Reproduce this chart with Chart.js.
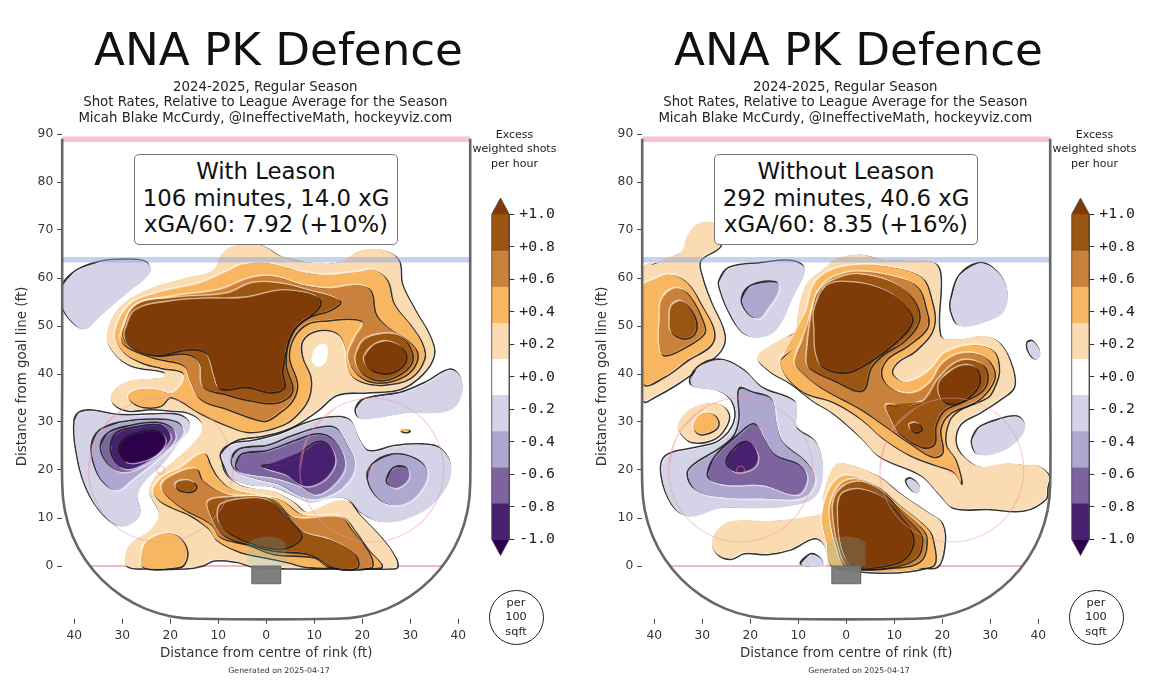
<!DOCTYPE html>
<html><head><meta charset="utf-8">
<script src="https://cdn.jsdelivr.net/npm/chart.js@4/dist/chart.umd.js"></script>
<style>
html,body{margin:0;padding:0;background:#fff;width:1162px;height:700px;overflow:hidden}
#root{position:relative;width:1162px;height:700px;font-family:"DejaVu Sans",sans-serif;color:#222;filter:blur(0.45px)}
canvas{position:absolute;top:0}
.t{position:absolute;text-align:center;white-space:nowrap;transform:translate(-50%,-50%)}
.box{position:absolute;top:154px;width:262px;height:89px;border:1px solid #777;border-radius:5px;background:#fff;font-size:22.8px;line-height:26.6px;text-align:center;box-sizing:content-box;padding-top:0;color:#111;white-space:nowrap}
.sq{position:absolute;top:590px;width:53px;height:53px;border:1.4px solid #222;border-radius:50%;font-size:11.3px;line-height:14.5px;text-align:center;display:flex;align-items:center;justify-content:center}
</style></head><body><div id="root"></div>
<script>
// ---------- text ----------
const titleText = 'ANA PK Defence';
const subtitleLines = ['2024-2025, Regular Season','Shot Rates, Relative to League Average for the Season','Micah Blake McCurdy, @IneffectiveMath, hockeyviz.com'];
const leftBoxLines = ['With Leason','106 minutes, 14.0 xG','xGA/60: 7.92 (+10%)'];
const rightBoxLines = ['Without Leason','292 minutes, 40.6 xG','xGA/60: 8.35 (+16%)'];
const legendTitle = ['Excess','weighted shots','per hour'];
const unitLines = ['per','100','sqft'];
const xTitle = 'Distance from centre of rink (ft)';
const yTitle = 'Distance from goal line (ft)';
const footer = 'Generated on 2025-04-17';
// ---------- axes ----------
const xTicks = [-40,-30,-20,-10,0,10,20,30,40];
const yTicks = [0,10,20,30,40,50,60,70,80,90];
const colorTicks = [1,0.8,0.6,0.4,0.2,0,-0.2,-0.4,-0.6,-0.8,-1];
const colorTickLabels = ['+1.0','+0.8','+0.6','+0.4','+0.2','+0.0','-0.2','-0.4','-0.6','-0.8','-1.0'];
// ---------- colour bar ----------
const bandLow  = [0.778,0.556,0.333,0.111,-0.111,-0.333,-0.556,-0.778,-1];
const bandHigh = [1,0.778,0.556,0.333,0.111,-0.111,-0.333,-0.556,-0.778];
const bandColor= ['#9a5512','#c9813b','#f9b661','#fbdcb2','#ffffff','#d5d3e8','#aea7d0','#7e649f','#482070'];
const capTop = [[0,1],[0.5,1.1],[1,1]];
const capBottom = [[0,-1],[0.5,-1.1],[1,-1]];
const capOutline = [[0,-1],[0,1],[0.5,1.1],[1,1],[1,-1],[0.5,-1.1],[0,-1]];
// ---------- rink (feet) ----------
const rinkOutline = [[-42.5,89],[-42.5,40],[-42.5,17],[-41.95,11.54],[-40.37,6.28],[-37.78,1.44],[-34.3,-2.8],[-30.05,-6.28],[-25.22,-8.87],[-20,-10.45],[-14.5,-11],[14.5,-11],[20,-10.45],[25.22,-8.87],[30.05,-6.28],[34.3,-2.8],[37.78,1.44],[40.37,6.28],[41.95,11.54],[42.5,17],[42.5,40],[42.5,89]];
const blueLine = [[-42.5,63.8],[42.5,63.8]];
const redLine = [[-42.5,88.9],[42.5,88.9]];
const goalLine = [[-36.7,0],[36.7,0]];
const net = [[-3,0],[3,0],[3,-3.7],[-3,-3.7],[-3,0]];
const crease = [[-4,0],[-4,4.6],[-2.6,5.7],[0,6.2],[2.6,5.8],[4,4.9],[4,0],[-4,0]];
const faceoffSpots = [[-22,20],[22,20]];
const faceoffWest = [[-37,20],[-34.99,27.5],[-29.5,32.99],[-22,35],[-14.5,32.99],[-9.01,27.5],[-7,20],[-9.01,12.5],[-14.5,7.01],[-22,5],[-29.5,7.01],[-34.99,12.5]];
const faceoffEast = [[7,20],[9.01,27.5],[14.5,32.99],[22,35],[29.5,32.99],[34.99,27.5],[37,20],[34.99,12.5],[29.5,7.01],[22,5],[14.5,7.01],[9.01,12.5]];
// ---------- left panel contours (feet) ----------
const L_pale = [[-33.2,48.5],[-30.5,54],[-24.2,57.8],[-17.3,59.9],[-11,61.7],[-9.3,65.1],[-6.2,66.9],[-1.3,66.9],[3.5,64.4],[10.5,63.1],[15.4,63.4],[19.5,65.7],[24.4,65.8],[27.5,63.8],[28.2,58.9],[31,53.3],[34.1,47.8],[34.8,44],[32.4,40.1],[27.8,37],[20.9,36.3],[14.7,35.8],[10.5,32.5],[5,29],[-0.6,27.3],[-6.8,26.2],[-9.3,23.5],[-8.6,19.3],[-5.5,16.9],[-2.7,16.2],[1.5,15.5],[5.6,13.4],[8.4,11.3],[14,13.4],[17.1,13.4],[19.5,10.6],[24.4,5.4],[26.8,1.9],[27.2,0],[26,-0.4],[15,-0.4],[5,-0.4],[0,-0.2],[-3,0],[-6.5,1],[-11,1.3],[-13.5,0.2],[-17,-0.4],[-25,-0.4],[-29,0],[-29.4,2],[-28.3,4.7],[-24.1,7.6],[-22.4,10.9],[-24,14.4],[-24.4,15.8],[-23.2,18.6],[-20.7,20.7],[-15.9,24.9],[-13.5,28],[-13.8,30.4],[-16.6,32.1],[-20,32.5],[-24.2,32.8],[-29,32.5],[-31.9,33.9],[-32.2,36],[-29.1,38.4],[-21.4,39.4],[-21.4,40.5],[-28.4,41.9],[-32.2,45]];
const L_orange = [[-31.5,48.5],[-28.4,54.4],[-22.8,56.8],[-13.8,58.9],[-8.2,61.3],[-4.8,62.8],[0.1,63.1],[7.1,61.3],[12.6,60.6],[19.5,61.3],[22.3,61.7],[25.1,59.6],[26.5,54.7],[30,50.2],[32.4,46.4],[32.8,43.3],[30,39.4],[24.4,37.9],[19.5,38.6],[17.1,40.8],[16.4,45.7],[14.7,48.6],[10.5,49.2],[7.4,47.1],[7.4,43.6],[9.1,39.4],[8.8,35.5],[7,32.5],[3.6,29.7],[-3.4,28],[-8.3,29.4],[-14,32],[-20,35.3],[-22.1,33.5],[-25.6,33.2],[-28,34.2],[-28.7,35.6],[-26.3,36.8],[-22.8,36.7],[-19.7,36],[-17.3,38.4],[-17.6,40.5],[-22.1,41.4],[-26.3,42.6],[-29.8,44.7]];
const L_orangeLow = [[-23.5,15.8],[-21.8,18.3],[-18,20.3],[-13.1,23.5],[-11.7,21],[-10.3,18.6],[-7.5,16.2],[-2,14.8],[2.9,13.8],[7.7,10.6],[15.7,10.3],[18.5,7.2],[21.3,3.3],[23.8,0.6],[23.8,-0.2],[15,-0.2],[8.4,-0.1],[4.3,0.9],[0.1,1.8],[-5.5,3],[-10.3,5.4],[-12,7.8],[-15.9,10.6],[-20,12.4],[-22.4,13.8]];
const L_orangeSpot = [[-25.9,2.6],[-24.8,5.1],[-21,6.8],[-18.3,6.1],[-16.6,3.3],[-17.2,0.6],[-18.7,-0.2],[-25.6,-0.2]];
const L_tan = [[-30.1,48.5],[-27.3,54],[-19.3,56.1],[-9.6,57.5],[-3.4,59.9],[1.5,60.3],[7.7,58.5],[13.3,57.8],[18.8,58.5],[21.6,57.5],[22.7,52.6],[25.1,49.9],[29.3,47.1],[31.4,44.3],[30,40.8],[26.5,38.8],[22.3,38.4],[18.9,40.1],[17.1,43.6],[18.5,47.4],[20.2,50.6],[18.1,51.6],[12.6,51.3],[8.4,50.6],[5.6,47.8],[4.6,43.6],[6.3,38.1],[5.3,34.6],[2.2,31.8],[-0.3,30.4],[-2.7,30.8],[-8.2,32.8],[-13.8,34.9],[-15.9,38.8],[-17.3,41.9],[-22.8,43.3],[-27.7,45],[-30.1,46.7]];
const L_tanLow = [[-21.8,16.5],[-20.4,18.3],[-14.8,20.3],[-13.4,17.9],[-8.2,14.9],[-2,14.4],[1.5,13.8],[5.6,10.1],[15.4,10.1],[17.5,7.8],[21.6,2.3],[21.6,-0.2],[13.3,-0.2],[9.8,1.9],[1.5,2.6],[-4.1,4.6],[-9.6,6.1],[-11.7,8.9],[-17.3,12],[-20.4,14.4]];
const L_brown = [[-29.8,49.2],[-27,54.4],[-19.3,55.8],[-8.2,56.7],[-2.7,58.9],[2.9,58.8],[8.4,57.5],[15.2,55.3],[13.3,53.5],[8.4,51.8],[5,48.5],[3.9,42.2],[5.3,36.7],[2.2,34.2],[-3.4,34.6],[-8.9,36],[-13.1,37.4],[-13.8,42.2],[-16.6,44.3],[-22.8,44],[-27.7,45.7],[-29.8,47.4]];
const L_brownLobe = [[18.9,44.3],[20.6,47.1],[24.4,48.3],[27.9,47.8],[30.1,45],[30,42.2],[27.2,39.8],[23.7,38.8],[20.6,39.8],[18.9,41.9]];
const L_brownSpot = [[-18.9,16.7],[-18,17.6],[-15.9,17.7],[-14.7,16.7],[-15.5,15.7],[-17.6,15.7]];
const L_brownLow = [[-12,13.4],[-8.2,14.2],[0.1,14.2],[2.9,12],[7.4,7.2],[13.3,5.4],[18.5,2.3],[18.7,-0.2],[14,-0.2],[9.1,2.5],[1.5,3.3],[-4.1,4.7],[-8.9,6.5],[-11.4,10.3]];
const L_dark = [[-29.2,49.2],[-27,53.3],[-19.3,55.1],[-12.4,55.6],[-4.1,55.8],[2.9,57.3],[8.4,56.8],[11.1,55.4],[10.2,53.3],[6.3,50.2],[4.6,47.1],[3.2,40.8],[3.6,37.4],[0.8,36.3],[-4.1,37.4],[-9.6,37],[-10.7,39.4],[-12.4,44.3],[-15.9,45.3],[-22.8,44],[-27,45],[-29.2,47.1]];
const L_darkLobe = [[20.6,43.6],[22.7,46],[25.5,46.7],[28.6,45],[28.8,42.6],[26.2,40.5],[23,40.5],[20.9,41.9]];
const L_darkLow = [[-10,11],[-9.3,12.7],[-5.5,13.8],[0.1,13.7],[2.9,11.3],[7.1,6.8],[6.4,5.1],[2.9,3.7],[-2.7,4.7],[-7.5,6.8],[-9.6,8.9]];
const L_hole = [[9.5,43.6],[10.5,45.7],[12.5,46.1],[12.6,43],[11.2,41.5],[9.8,42.2]];
const L_fleck = [[27.9,28.3],[28.9,28.6],[29.8,28.3],[28.9,28]];
const L_lilacCorner = [[-42.4,58.1],[-39.5,61.3],[-34.6,63.2],[-29,63.7],[-24.9,63.2],[-24.2,61.1],[-29,56.8],[-34.6,52],[-37.7,49.3],[-40.2,50.6],[-42.4,54]];
const L_lilacWest = [[-39.8,30.1],[-38.8,31.8],[-36.7,32.3],[-29.8,31.3],[-19.3,31.5],[-16.6,30.6],[-15.9,28.7],[-18,25.9],[-21.4,21.4],[-25.6,17.2],[-26.8,14.4],[-26.2,10.6],[-29.8,8.2],[-33.6,10.3],[-37.4,16.2],[-39.5,24.2]];
const L_lilacEast = [[-9.3,23.1],[-7.2,25.2],[-2.7,25.9],[2.9,27.3],[8.4,29.6],[13.3,30.8],[17.5,30.3],[19.5,26.3],[21.6,23.8],[27.2,24.9],[32.7,25.2],[36.6,24.2],[38.6,20],[36.2,14.4],[30.6,10.3],[24.4,9.1],[19.9,11],[17.1,13.8],[13.3,14.1],[9.5,13.2],[6.3,14.4],[1.5,16.4],[-2.7,16.7],[-7.2,18.3],[-8.6,20.7]];
const L_lilacNorth = [[18.8,32.5],[20.6,34.6],[28,35.9],[33.4,38.1],[38.6,40.8],[40.7,38.8],[40.4,34.6],[37.6,32.2],[29.2,31.8],[22.9,30.8],[19.5,30.8]];
const L_lavWest = [[-36.2,24.9],[-34.7,27.9],[-30.5,29.7],[-22.8,30.4],[-18.3,29.7],[-17.3,27.7],[-20.1,24.5],[-24.2,21],[-27.7,18.3],[-31.2,15.8],[-34,17.6],[-35.7,21]];
const L_lavEast = [[-7,22.1],[-5.3,24.2],[0.1,24.8],[5.6,26.9],[11.1,28.6],[14.6,28.6],[16.7,25.5],[18.5,21],[16,16.5],[11.1,14.1],[7.6,14.4],[2.9,16.9],[-2.7,18.3],[-6.1,19.7]];
const L_lavRight = [[21.3,17.9],[22.3,21],[26.5,23.1],[31.4,22.1],[33.6,19.3],[31.4,14.8],[27.5,12.7],[23.7,13.8]];
const L_violetWest = [[-34.3,24.9],[-32.6,27.6],[-28.4,29],[-22.8,29.7],[-19.7,28.7],[-19,26.6],[-21.4,23.8],[-25.6,21],[-29.8,19.6],[-33,21.4]];
const L_violetEast = [[-6.1,21],[-4.8,23.1],[0.1,23.7],[6.3,25.9],[11.1,27.3],[14.3,25.9],[16.4,21.4],[14.6,17.6],[10.5,14.9],[7.4,16.6],[2.2,18.3],[-2.7,19],[-5.5,19.7]];
const L_violetRight = [[25.3,17.9],[26.8,20.3],[29.3,20.3],[29.6,18.3],[27.5,16.4],[25.8,16.7]];
const L_purpleWest = [[-32.2,24.9],[-30.9,27.6],[-27,28.7],[-22.5,29.2],[-20.4,28],[-20.1,26.3],[-22.5,23.5],[-26.3,21],[-29.4,20.3],[-31.5,22]];
const L_purpleEast = [[-0.6,20.7],[5,21.4],[8.4,24.2],[11.1,25.7],[13.3,24.8],[14.3,21.7],[12.6,18.6],[9.8,16.9],[7.4,16.9],[4.3,19],[1.2,20]];
const L_deepWest = [[-30.5,24.2],[-29.4,26.3],[-26.3,27.6],[-22.8,28],[-21.1,26.6],[-21.5,24.9],[-23.2,23.1],[-26.7,21.7],[-29.1,21.7],[-30.1,22.8]];
// ---------- right panel contours (feet) ----------
const R_paleWest = [[-42.4,62],[-38.1,63.6],[-34.3,65.5],[-33.2,68.6],[-30.8,71.4],[-27,71],[-26.3,66.9],[-30.5,63.8],[-30.1,60.3],[-28.4,55.4],[-25.5,48.5],[-26.3,45],[-30.5,41.5],[-35.3,38.1],[-40.2,35.3],[-42.4,34.6]];
const R_orangeWest = [[-42.4,58.2],[-40.2,59.6],[-36.7,60.7],[-33.2,59],[-30.1,54.1],[-27.7,49.2],[-28.4,46.1],[-33.2,43],[-38.1,39.5],[-42.4,38.2]];
const R_tanWest = [[-38.8,51.2],[-38.4,55.4],[-35.7,57.8],[-32.9,56.5],[-29.8,50.6],[-29.8,48.5],[-33.2,46],[-38.1,44],[-38.9,46.4]];
const R_brownWest = [[-36.7,51.2],[-36.3,54.1],[-34.3,55.1],[-32.2,53],[-31.3,50.2],[-32.2,48.1],[-34.3,47.6],[-36.4,48.8]];
const R_pale = [[-18.5,43.6],[-14.5,46.7],[-10.7,48.8],[-10,53.3],[-8.2,58.9],[-4.1,62.4],[-2,64.1],[2.9,64.9],[7.7,63.8],[17.8,63.4],[19.5,61],[19.5,48.1],[23,47.2],[28.6,47.9],[32,46.4],[34.5,41.5],[34.8,37.4],[32,34.9],[27.9,32.2],[23.7,29.7],[22.7,25.9],[24.4,22.8],[27.9,20.7],[33.4,21.4],[37.6,21],[39.7,21],[42.1,19],[41.8,16.5],[41.4,14.1],[36.9,11.7],[29.3,12],[22.3,12.2],[19.5,14.8],[15.4,19],[7,22.8],[2.9,26.9],[-2.7,31.8],[-7.2,34.6],[-11.7,38.1],[-16.2,40.8]];
const R_paleLow = [[-28,5.1],[-26.3,8.2],[-23.5,9.4],[-15.9,9.4],[-7.9,10.3],[-5.1,11.3],[-4.8,14.8],[-2.7,20.6],[-0.6,21.4],[6.3,18.9],[11.2,15.1],[16.8,11.3],[19.9,8.9],[20.3,4],[18.9,0],[15.7,-0.2],[2.9,-0.2],[-2.7,0],[-4.8,4.7],[-6.9,5.9],[-11.7,3.6],[-16.6,2.6],[-21.4,2.8],[-24.2,1.6],[-27,2.6]];
const R_paleSpot = [[-35,29.7],[-32.2,32.9],[-27,33.9],[-24.6,31.8],[-25.3,29],[-27.7,26.6],[-32.2,25.9],[-34.6,27.8]];
const R_orange = [[-13.8,42.6],[-10.3,46.4],[-8.2,53.3],[-6.5,58.9],[-2.7,61.7],[2.9,62.7],[8.4,62.4],[15.4,60.3],[17.5,56.1],[18.1,49.9],[14.3,45],[10.5,42.6],[9.5,40.1],[12.6,38.3],[17.5,40.8],[20.6,44.3],[26.5,46],[30.7,44.7],[31.7,40.8],[30.7,37.4],[29.3,35.3],[23.7,32.8],[21.3,30.4],[20.6,25.6],[22.7,22.1],[23.9,17.3],[22.3,19.7],[18.9,21],[13.3,23.1],[7.7,26.6],[2.9,30.8],[-2.7,34.2],[-9.6,36.7]];
const R_orangeLow = [[-5,9.6],[-4.1,14.4],[-2,17.9],[0.8,18.8],[6.3,16.6],[10.5,13.1],[15.7,8.9],[17.8,6.1],[17.5,0],[-2.7,0],[-4.1,5.4]];
const R_orangeSpot = [[-31.8,29.3],[-30.5,31.5],[-28.4,31.9],[-26.8,30.4],[-27.3,28.7],[-29.8,27.6],[-31.3,27.9]];
const R_tan = [[-10.7,42.6],[-8.2,49.2],[-6.9,53.7],[-4.8,58.5],[-1.3,60.6],[2.9,61.3],[9.8,60.3],[14.7,58.2],[16.4,54],[16.8,49.9],[12.6,46],[8.4,43.3],[7.2,39.8],[9.8,36.7],[14,36],[17.5,38.1],[20.2,42.2],[24.4,44.3],[28.6,43.6],[30.7,40.8],[30.3,38.1],[27.2,34.6],[21.3,31.8],[19.5,28.7],[19.9,23.8],[17.8,22.9],[13.3,25.6],[8.4,29],[2.9,32.8],[-5.5,37.4],[-9.6,40.8]];
const R_tanLow = [[-3.4,11],[-2.7,14.4],[-0.6,17.4],[2.9,17.9],[7.1,15.8],[10.5,12.4],[15.3,8.2],[16.6,6.1],[15.7,1.6],[11.9,0],[0.1,0],[-2,4]];
const R_brown = [[-8.2,42.9],[-6.9,53.7],[-5.5,57.5],[-1.3,60],[2.9,60.7],[9.8,58.9],[14,55.4],[15,51.2],[11.9,47],[7.7,44.3],[5,41.5],[3.2,36.7],[-2.7,38.8],[-7.5,41.2]];
const R_brownEast = [[8.4,33.5],[11.9,33.2],[16.1,34.2],[19.5,39.1],[23.7,42.6],[27.9,42.2],[29.3,39.8],[28.2,36.7],[23.7,34.2],[20.2,32.5],[18.5,29.4],[18.2,25.6],[15.7,24.9],[11.2,27.6],[9.5,30.4]];
const R_brownLow = [[-2.7,11.7],[-2,14.8],[0.1,16.9],[3.6,17.4],[7.7,15.1],[11.2,11.3],[14.6,7.8],[15.7,5.8],[14.6,2],[9.8,0],[0.8,0],[-1.3,3.3]];
const R_dark = [[-6.5,49.2],[-6.5,53.4],[-4.1,58.2],[1.5,59],[8.4,57.2],[12.6,53.7],[13.6,51],[10.5,47.1],[5,42.9],[0.1,40.5],[-4.8,41.5],[-6.2,44.3]];
const R_darkEast = [[20.2,39.1],[23.7,41.5],[26.5,41.5],[27.7,39.4],[26.8,36.7],[23.4,34.2],[20.6,34.2],[19.3,36.7]];
const R_darkSpot = [[13.3,29.4],[14.7,29.7],[15.6,28.7],[14.7,28],[13.6,28.3]];
const R_darkLow = [[-1.6,12.4],[-0.9,14.8],[1.2,15.8],[3.6,15.8],[7.7,14.1],[11.2,10.3],[13.6,6.8],[13.6,4],[11.5,1.3],[7,0],[1.5,0],[-0.9,4]];
const R_lilacNorth = [[-26.3,59.2],[-24.2,62],[-17.3,63],[-11,63.4],[-8.6,61.7],[-11,56.1],[-14.5,49.2],[-18,47.6],[-21.4,48.5],[-24.2,52.6],[-26,57]];
const R_lilacEast = [[22,55.4],[23.7,60.3],[27.5,62.9],[30.7,62],[33.4,58.2],[33,53.3],[29.2,50.9],[23.7,50],[22,52.8]];
const R_lilacPatch = [[26.4,26.3],[27.9,28.7],[32,30.4],[35.9,31],[37.3,29],[35.5,25.9],[31.4,23.5],[27.5,23.2],[26.5,24.6]];
const R_lilacFleck = [[37.9,46.4],[39,46.7],[40.5,44.3],[39.7,42.9],[38.2,44.3]];
const R_lilacCrease = [[-9.3,0.2],[-7.2,2.3],[-5.4,1.6],[-4.8,0.1]];
const R_lilacDot = [[12.6,17.6],[13.6,18.1],[15.4,16.4],[15,15.1],[13.6,15.8]];
const R_lilac = [[-32.2,37.7],[-30.8,41.2],[-26.3,42.9],[-21.4,40.8],[-17.3,37],[-10.7,34.2],[-10.3,31.1],[-10.3,28.7],[-6.2,25.6],[-4.8,19.7],[-6.5,14.4],[-12.4,12.4],[-19.3,12],[-26.3,12],[-32.5,10.3],[-36,12.4],[-38.4,19],[-37.4,22.8],[-31.2,24.5],[-26.3,25.9],[-23.2,29.7],[-23.5,33.9],[-26.3,36.3]];
const R_lavNorth = [[-21.6,55.4],[-19.7,58.2],[-14.5,59],[-14.2,57.2],[-16.6,53.4],[-18.3,51.6],[-20.4,52.6]];
const R_lav = [[-22.1,36.7],[-19.3,36],[-15.5,34.6],[-14.5,29.7],[-13.1,25.6],[-8.2,21.4],[-6.5,17.9],[-8.9,14.4],[-17.3,14.1],[-26.3,14.4],[-31.2,15.8],[-32.9,19],[-31.5,21],[-26.3,24.2],[-23.2,26.9],[-22.1,30.4]];
const R_violet = [[-28.7,19],[-27,22.8],[-22.1,27.3],[-19,29.4],[-16.9,26.2],[-14.5,22.8],[-9.6,20.8],[-8.2,18],[-10.3,14.9],[-17.3,16.9],[-24.2,16.9],[-27.7,17.6]];
const R_purple = [[-24.8,21.4],[-23.2,24.2],[-20.7,25.7],[-18.7,23.8],[-18.7,21.4],[-20.4,20],[-23.2,19.7]];

const C = {p2:'#fbdcb2',p4:'#f9b661',p6:'#c9813b',p8:'#9a5512',p10:'#7f3b08',n2:'#d5d3e8',n4:'#aea7d0',n6:'#7e649f',n8:'#482070',n10:'#2d004b',w:'#ffffff'};
const leftLayers = [
 [L_pale,'p2',1],[L_orange,'p4',1],[L_orangeLow,'p4',1],[L_orangeSpot,'p4',1],[L_tan,'p6',1],[L_tanLow,'p6',1],[L_brown,'p8',1],[L_brownLobe,'p8',1],[L_brownSpot,'p8',1],[L_brownLow,'p8',1],[L_dark,'p10',1],[L_darkLobe,'p10',1],[L_darkLow,'p10',1],[L_hole,'w',0],[L_fleck,'p4',1],
 [L_lilacCorner,'n2',-1],[L_lilacWest,'n2',-1],[L_lilacEast,'n2',-1],[L_lilacNorth,'n2',-1],[L_lavWest,'n4',-1],[L_lavEast,'n4',-1],[L_lavRight,'n4',-1],[L_violetWest,'n6',-1],[L_violetEast,'n6',-1],[L_violetRight,'n6',-1],[L_purpleWest,'n8',-1],[L_purpleEast,'n8',-1],[L_deepWest,'n10',-1]];
const rightLayers = [
 [R_paleWest,'p2',1],[R_pale,'p2',1],[R_paleLow,'p2',1],[R_paleSpot,'p2',1],[R_orangeWest,'p4',1],[R_orange,'p4',1],[R_orangeLow,'p4',1],[R_orangeSpot,'p4',1],[R_tanWest,'p6',1],[R_tan,'p6',1],[R_tanLow,'p6',1],[R_brownWest,'p8',1],[R_brown,'p8',1],[R_brownEast,'p8',1],[R_brownLow,'p8',1],[R_dark,'p10',1],[R_darkEast,'p10',1],[R_darkSpot,'p10',1],[R_darkLow,'p10',1],
 [R_lilacNorth,'n2',-1],[R_lilacEast,'n2',-1],[R_lilacPatch,'n2',-1],[R_lilacFleck,'n2',-1],[R_lilacCrease,'n2',-1],[R_lilacDot,'n2',-1],[R_lilac,'n2',-1],[R_lavNorth,'n4',-1],[R_lav,'n4',-1],[R_violet,'n6',-1],[R_purple,'n8',-1]];

const xy = a => a.map(([x,y])=>({x,y}));
const closed = p => [...p,p[0],p[1],p[2]];
const base = {pointRadius:0,pointHoverRadius:0,capBezierPoints:false,borderJoinStyle:'round'};
function strokeSet(pts,dx,dy,color,w){
  return {...base,data:xy(closed(pts).map(([x,y])=>[x+dx,y+dy])),borderColor:color,borderWidth:w,tension:0.38,fill:false};
}
function contourSets(layers){
  const out=[];
  const s=0.24;
  for(const [pts,key,sign] of layers){
    if(sign){
      out.push(strokeSet(pts,-s*sign,s*sign,'rgba(255,255,255,0.55)',1.3));
      out.push(strokeSet(pts,s*sign,-s*sign,'rgba(25,25,25,0.88)',1.55));
    }
    out.push({...base,data:xy(closed(pts)),backgroundColor:C[key],borderWidth:0,borderColor:'transparent',tension:0.38,fill:'shape'});
  }
  return out;
}
function straight(pts,color,w,extra){
  return {...base,data:xy(pts),borderColor:color,borderWidth:w,tension:0,fill:false,clip:false,borderCapStyle:'butt',...extra};
}
function panel(left,layers){
  const cv=document.createElement('canvas');cv.width=480;cv.height=700;cv.style.left=left+'px';cv.style.width='480px';cv.style.height='700px';
  document.getElementById('root').appendChild(cv);
  const sets=[
    straight(goalLine,'rgba(240,160,175,0.75)',2),
    ...contourSets(layers),
    {...straight(crease,'rgba(0,0,0,0)',0),backgroundColor:'rgba(110,200,205,0.22)',fill:'shape'},
    straight(blueLine,'rgba(135,158,215,0.48)',5.5),
    straight(redLine,'rgba(238,160,178,0.62)',5.5),
    {...straight(closed(faceoffWest),'rgba(240,150,160,0.5)',1.1),tension:0.35},
    {...straight(closed(faceoffEast),'rgba(240,150,160,0.5)',1.1),tension:0.35},
    {...base,data:xy(faceoffSpots),showLine:false,pointRadius:4,pointBorderColor:'rgba(240,130,130,0.6)',pointBackgroundColor:'rgba(0,0,0,0)',pointBorderWidth:1,clip:false},
    {...straight(net,'#6b6b6b',1),backgroundColor:'rgba(120,120,120,0.95)',fill:'shape'},
    {...straight(rinkOutline,'rgba(95,95,95,0.95)',2.6),tension:0.35,capBezierPoints:false},
  ];
  sets.forEach((d,i)=>{d.order=sets.length-i;});
  new Chart(cv,{type:'line',data:{datasets:sets},options:{
    responsive:false,animation:false,events:[],devicePixelRatio:1,
    layout:{padding:{top:134,right:9.8,bottom:38,left:0}},
    plugins:{legend:{display:false},tooltip:{enabled:false}},
    scales:{
      x:{type:'linear',min:-42.5,max:42.5,afterFit:s=>{s.height=43.2;s.paddingLeft=0;s.paddingRight=0;},afterBuildTicks:a=>{a.ticks=xTicks.map(v=>({value:v}));},
         grid:{drawOnChartArea:false,tickLength:5,color:'#444',tickWidth:1},border:{display:false},
         ticks:{font:{family:'DejaVu Sans',size:12.3},color:'#333',padding:5,maxRotation:0,autoSkip:false,callback:v=>String(Math.abs(v))},
         title:{display:true,text:xTitle,font:{family:'DejaVu Sans',size:13.4},color:'#333',padding:{top:0,bottom:0}}},
      y:{type:'linear',min:-11,max:90,afterFit:s=>{s.width=62.2;s.paddingTop=0;s.paddingBottom=0;},afterBuildTicks:a=>{a.ticks=yTicks.map(v=>({value:v}));},
         grid:{drawOnChartArea:false,tickLength:5,color:'#444',tickWidth:1},border:{display:false},
         ticks:{font:{family:'DejaVu Sans',size:12.3},color:'#333',padding:4,autoSkip:false,callback:v=>String(v)},
         title:{display:true,text:yTitle,font:{family:'DejaVu Sans',size:13.4},color:'#333',padding:{top:14,bottom:0}}}
    }}});
}
function colourbar(left){
  const cv=document.createElement('canvas');cv.width=84;cv.height=700;cv.style.left=left+'px';cv.style.width='84px';cv.style.height='700px';
  document.getElementById('root').appendChild(cv);
  const bars=bandLow.map((lo,i)=>({type:'bar',data:[[lo,bandHigh[i]]],backgroundColor:bandColor[i],borderWidth:0,barPercentage:1,categoryPercentage:1,grouped:false,xAxisID:'x',order:5}));
  const cap=(pts,col)=>({type:'line',...base,xAxisID:'x2',data:xy(pts),backgroundColor:col,borderWidth:0,tension:0,fill:'shape',clip:false,order:4});
  const outline={type:'line',...base,xAxisID:'x2',data:xy(capOutline),borderColor:'rgba(70,70,70,0.8)',borderWidth:1,tension:0,fill:false,clip:false,order:1};
  new Chart(cv,{type:'bar',data:{labels:[''],datasets:[...bars,cap(capTop,'#7f3b08'),cap(capBottom,'#2d004b'),outline]},options:{
    responsive:false,animation:false,events:[],devicePixelRatio:1,
    layout:{padding:{top:198,bottom:144.5,left:11.7,right:0}},
    plugins:{legend:{display:false},tooltip:{enabled:false}},
    scales:{
      x:{display:false},
      x2:{type:'linear',min:0,max:1,display:false,offset:false},
      y:{position:'right',min:-1.1,max:1.1,afterFit:s=>{s.width=54.7;s.paddingTop=0;s.paddingBottom=0;},afterBuildTicks:a=>{a.ticks=colorTicks.map(v=>({value:v}));},
         grid:{drawOnChartArea:false,tickLength:5,color:'#333'},border:{display:false},
         ticks:{autoSkip:false,font:{family:'DejaVu Sans Mono',size:14.8},color:'#222',padding:5,
           callback:v=>colorTickLabels[colorTicks.indexOf(v)]??''}}
    }}});
}
function textAt(s,x,y,size,color){const d=document.createElement('div');d.className='t';d.textContent=s;d.style.left=x+'px';d.style.top=y+'px';d.style.fontSize=size+'px';d.style.color=color||'#222';document.getElementById('root').appendChild(d);}
function annotate(o,boxLines){
  const root=document.getElementById('root');
  textAt(titleText,278.5+o,49,45.2,'#111');
  subtitleLines.forEach((s,i)=>textAt(s,265.3+o,85.5+i*15.7,13.3,'#222'));
  const b=document.createElement('div');b.className='box';b.style.left=(134+o)+'px';
  boxLines.forEach(s=>{const l=document.createElement('div');l.textContent=s;b.appendChild(l);});
  b.firstChild.style.marginTop='3px';
  root.appendChild(b);
  legendTitle.forEach((s,i)=>textAt(s,514.5+o,133.5+i*14.5,11,'#222'));
  const q=document.createElement('div');q.className='sq';q.style.left=(488.5+o)+'px';
  q.innerHTML=unitLines.join('<br>');root.appendChild(q);
  textAt(footer,279+o,670,7.8,'#333');
}
panel(0,leftLayers);panel(580,rightLayers);colourbar(480);colourbar(1060);
annotate(0,leftBoxLines);annotate(580,rightBoxLines);
</script></body></html>
